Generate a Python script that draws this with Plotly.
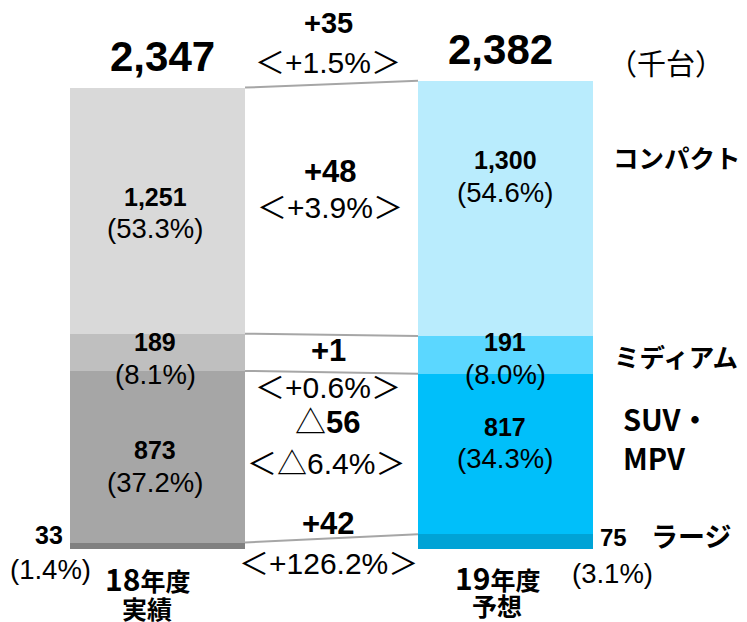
import plotly.graph_objects as go

# ---- data ----
years = ["18年度<br>実績", "19年度<br>予想"]
segments = ["ラージ", "SUV・MPV", "ミディアム", "コンパクト"]  # bottom -> top
fy18 = [33, 873, 189, 1251]
fy19 = [75, 817, 191, 1300]
totals = [2347, 2382]
share18 = [1.4, 37.2, 8.1, 53.3]
share19 = [3.1, 34.3, 8.0, 54.6]
diff_vals = [42, -56, 1, 48]
diff_pct = [126.2, -6.4, 0.6, 3.9]
total_diff = 35
total_diff_pct = 1.5

colors18 = ["#808080", "#A6A6A6", "#BFBFBF", "#D9D9D9"]
colors19 = ["#00A3D6", "#00BFFA", "#5BD7FF", "#B9ECFD"]

OFF = 8                      # default body margin of the html page
W, H = 747 - OFF, 622 - OFF  # figure size
BASE = 549                   # pixel row of the bar baseline (page coords)
PLOT_H = BASE - OFF          # plot area height (figure coords)
SCALE = 0.1966               # px per unit
BAR_W = 0.503
STEP = 348                   # px between the two bars
CX0 = 157.5                  # page x of first bar centre

NUMF = "Liberation Sans, Arial, Noto Sans CJK JP"
JPF = "Noto Sans CJK JP, Liberation Sans"

fig = go.Figure()
for i in range(len(segments)):
    fig.add_trace(go.Bar(
        x=[0, 1], y=[fy18[i], fy19[i]], width=BAR_W,
        marker=dict(color=[colors18[i], colors19[i]], line=dict(width=0)),
        showlegend=False, hoverinfo="skip"))

# connector lines at cumulative boundaries
cum18, cum19 = 0, 0
bounds = []
for i in range(len(segments)):
    cum18 += fy18[i]
    cum19 += fy19[i]
    bounds.append((cum18, cum19))
bounds[-1] = (totals[0], totals[1])
for a, b in bounds:
    fig.add_trace(go.Scatter(
        x=[BAR_W / 2, 1 - BAR_W / 2], y=[a, b], mode="lines",
        line=dict(color="#A6A6A6", width=2), showlegend=False, hoverinfo="skip"))


def fmt(v):
    return f"{v:,}"


def sgn(v):
    return f"+{v:,}" if v >= 0 else f"△{abs(v):,}"


def sgnp(v):
    return f"+{v:.1f}%" if v >= 0 else f"△{abs(v):.1f}%"


ann = []


def add(text, px, py, size, bold=False, family=NUMF, xanchor="center"):
    t = f"<b>{text}</b>" if bold else text
    fx, fy = px - OFF, py - OFF
    ann.append(dict(text=t, x=fx / W, y=(PLOT_H - fy) / PLOT_H, xref="paper", yref="paper",
                    xanchor=xanchor, yanchor="middle", showarrow=False,
                    font=dict(family=family, size=size, color="black")))


BN, PC, MB, MP = 25, 27.5, 31, 30

# totals
add(fmt(totals[0]), 162, 56, 42, True)
add(fmt(totals[1]), 500, 50, 42, True)
add("（千台）", 666, 62, 29, False, "Noto Sans CJK JP")

# left bar labels
add(fmt(fy18[3]), 155, 197, BN, True)
add(f"({share18[3]:.1f}%)", 155, 229, PC)
add(fmt(fy18[2]), 155, 342, BN, True)
add(f"({share18[2]:.1f}%)", 155, 375, PC)
add(fmt(fy18[1]), 155, 450, BN, True)
add(f"({share18[1]:.1f}%)", 155, 482, PC)
add(fmt(fy18[0]), 49, 535, BN, True)
add(f"({share18[0]:.1f}%)", 50, 569, PC)

# right bar labels
add(fmt(fy19[3]), 505, 160, BN, True)
add(f"({share19[3]:.1f}%)", 505, 192, PC)
add(fmt(fy19[2]), 505, 342, BN, True)
add(f"({share19[2]:.1f}%)", 505, 375, PC)
add(fmt(fy19[1]), 505, 427, BN, True)
add(f"({share19[1]:.1f}%)", 505, 458, PC)
add(fmt(fy19[0]), 613, 537, 24, True)
add(f"({share19[0]:.1f}%)", 612, 573, PC)

# differences (middle)
add(sgn(total_diff), 328, 23, 29, True)
add(f"＜{sgnp(total_diff_pct)}＞", 328, 62, MP)
add(sgn(diff_vals[3]), 330, 172, MB, True)
add(f"＜{sgnp(diff_pct[3])}＞", 330, 207, MP)
add(sgn(diff_vals[2]), 328, 350, MB, True)
add(f"＜{sgnp(diff_pct[2])}＞", 328, 387, MP)
d = diff_vals[1]
add(("△<b>" + fmt(abs(d)) + "</b>") if d < 0 else f"<b>+{d}</b>", 327, 423, MB)
add(f"＜{sgnp(diff_pct[1])}＞", 326, 463, MP)
add(sgn(diff_vals[0]), 328, 523, MB, True)
add(f"＜{sgnp(diff_pct[0])}＞", 328, 563, MP)

# category labels
add("コンパクト", 677, 156, 25.5, True, JPF)
add("ミディアム", 676, 355, 25.5, True, JPF)
add("SUV・", 621, 418, 29, True, JPF, "left")
add("MPV", 621, 457, 29, True, JPF, "left")
add("ラージ", 691, 535, 27, True, JPF)

# year labels
yl = [y.split("<br>") for y in years]


def yearline(s):
    digits = s[:2]
    return f"<span style='font-size:30px'>{digits}</span>{s[2:]}"


add(yearline(yl[0][0]), 147, 578, 25, True, JPF)
add(yl[0][1], 147, 608, 25, True, JPF)
add(yearline(yl[1][0]), 497, 577, 25, True, JPF)
add(yl[1][1], 497, 605, 25, True, JPF)

x0 = -(CX0 - OFF) / STEP
fig.update_layout(
    width=W, height=H, barmode="stack", bargap=0,
    margin=dict(l=0, r=0, t=0, b=H - PLOT_H),
    paper_bgcolor="white", plot_bgcolor="white",
    xaxis=dict(range=[x0, x0 + W / STEP], visible=False, fixedrange=True),
    yaxis=dict(range=[0, PLOT_H / SCALE], visible=False, fixedrange=True),
    annotations=ann,
)

fig.write_html("out.html")
